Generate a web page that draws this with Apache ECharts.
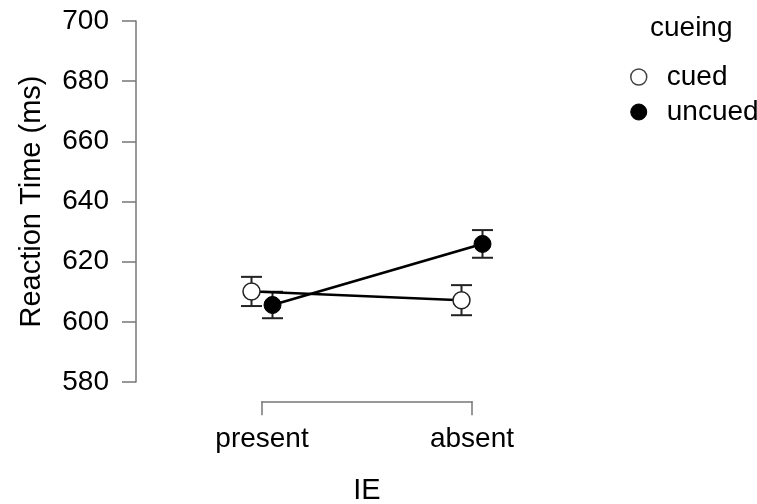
<!DOCTYPE html>
<html>
<head>
<meta charset="utf-8">
<script src="https://cdn.jsdelivr.net/npm/echarts@6/dist/echarts.min.js"></script>
<style>
  html, body { margin: 0; padding: 0; background: #fff; }
  #chart { width: 757px; height: 504px; }
</style>
</head>
<body>
<div id="chart"></div>
<script>
const categories = ['present', 'absent'];
const groups = ['cued', 'uncued'];
const cuedMean = [610.1, 607.2];
const cuedErr = [4.85, 5.0];
const uncuedMean = [605.6, 625.9];
const uncuedErr = [4.4, 4.6];
const yTicks = [580, 600, 620, 640, 660, 680, 700];

const dodge = 0.05;
const font = 'Liberation Sans, Arial, sans-serif';
const axisColor = '#777';

const chart = echarts.init(document.getElementById('chart'));

function points(means, shift) {
  return means.map((v, i) => [i + shift, v]);
}

function bars(means, errs, shift) {
  return means.map((v, i) => [i + shift, v - errs[i], v + errs[i]]);
}

function errorBar(params, api) {
  const lo = api.coord([api.value(0), api.value(1)]);
  const hi = api.coord([api.value(0), api.value(2)]);
  const half = 10.5;
  const style = {stroke: '#222', lineWidth: 2};
  return {
    type: 'group',
    children: [
      {type: 'line', shape: {x1: lo[0], y1: lo[1], x2: hi[0], y2: hi[1]}, style: style},
      {type: 'line', shape: {x1: lo[0] - half, y1: lo[1], x2: lo[0] + half, y2: lo[1]}, style: style},
      {type: 'line', shape: {x1: hi[0] - half, y1: hi[1], x2: hi[0] + half, y2: hi[1]}, style: style}
    ]
  };
}

// grid 0: the data, grid 1: the detached y axis, grid 2: the x axis bracket
chart.setOption({
  animation: false,
  backgroundColor: '#fff',
  grid: [
    {left: 262, right: 285, top: 21, bottom: 122},
    {left: 136, width: 1, top: 21, bottom: 122},
    {left: 262, right: 285, top: 401, bottom: 102}
  ],
  xAxis: [
    {gridIndex: 0, type: 'value', min: 0, max: 1, show: false},
    {gridIndex: 1, type: 'value', min: 0, max: 1, show: false},
    {
      gridIndex: 2,
      type: 'value',
      min: 0,
      max: 1,
      interval: 1,
      name: 'IE',
      nameLocation: 'middle',
      nameGap: 75,
      nameTextStyle: {fontSize: 29, color: '#000', fontFamily: font},
      axisLine: {show: true, lineStyle: {color: axisColor, width: 1.5}},
      axisTick: {show: true, length: 14, lineStyle: {color: axisColor, width: 1.5}},
      axisLabel: {
        margin: 24,
        fontSize: 28,
        color: '#000',
        fontFamily: font,
        formatter: v => categories[v] || ''
      },
      splitLine: {show: false}
    }
  ],
  yAxis: [
    {gridIndex: 0, type: 'value', min: yTicks[0], max: yTicks[yTicks.length - 1], show: false},
    {
      gridIndex: 1,
      type: 'value',
      min: yTicks[0],
      max: yTicks[yTicks.length - 1],
      interval: 20,
      name: 'Reaction Time (ms)',
      nameLocation: 'middle',
      nameGap: 90,
      nameTextStyle: {fontSize: 29, color: '#000', fontFamily: font},
      axisLine: {show: true, lineStyle: {color: axisColor, width: 1.5}},
      axisTick: {show: true, length: 14, lineStyle: {color: axisColor, width: 1.5}},
      axisLabel: {margin: 27, fontSize: 28, color: '#000', fontFamily: font},
      splitLine: {show: false}
    },
    {gridIndex: 2, type: 'value', min: 0, max: 1, show: false}
  ],
  legend: {
    orient: 'vertical',
    left: 625,
    top: 57,
    itemWidth: 16,
    itemHeight: 16,
    itemGap: 5,
    icon: 'circle',
    textStyle: {fontSize: 28, color: '#000', fontFamily: font, lineHeight: 30, padding: [0, 0, 0, 15]},
    data: [
      {name: groups[0], itemStyle: {color: '#fff', borderColor: '#444', borderWidth: 1.5}},
      {name: groups[1], itemStyle: {color: '#000', borderColor: '#000', borderWidth: 1}}
    ]
  },
  graphic: [{
    type: 'text',
    x: 650,
    y: 28,
    style: {text: 'cueing', font: '28px ' + font, fill: '#000', verticalAlign: 'middle'}
  }],
  series: [
    {
      type: 'custom',
      name: groups[0] + ' err',
      renderItem: errorBar,
      data: bars(cuedMean, cuedErr, -dodge),
      clip: false,
      z: 1
    },
    {
      type: 'custom',
      name: groups[1] + ' err',
      renderItem: errorBar,
      data: bars(uncuedMean, uncuedErr, dodge),
      clip: false,
      z: 1
    },
    {
      type: 'line',
      name: groups[0],
      data: points(cuedMean, -dodge),
      clip: false,
      symbol: 'circle',
      symbolSize: 17,
      lineStyle: {color: '#000', width: 2.5},
      itemStyle: {color: '#fff', borderColor: '#222', borderWidth: 1.5},
      z: 3
    },
    {
      type: 'line',
      name: groups[1],
      data: points(uncuedMean, dodge),
      clip: false,
      symbol: 'circle',
      symbolSize: 17,
      lineStyle: {color: '#000', width: 2.5},
      itemStyle: {color: '#000', borderColor: '#000', borderWidth: 1},
      z: 3
    }
  ]
});
</script>
</body>
</html>
